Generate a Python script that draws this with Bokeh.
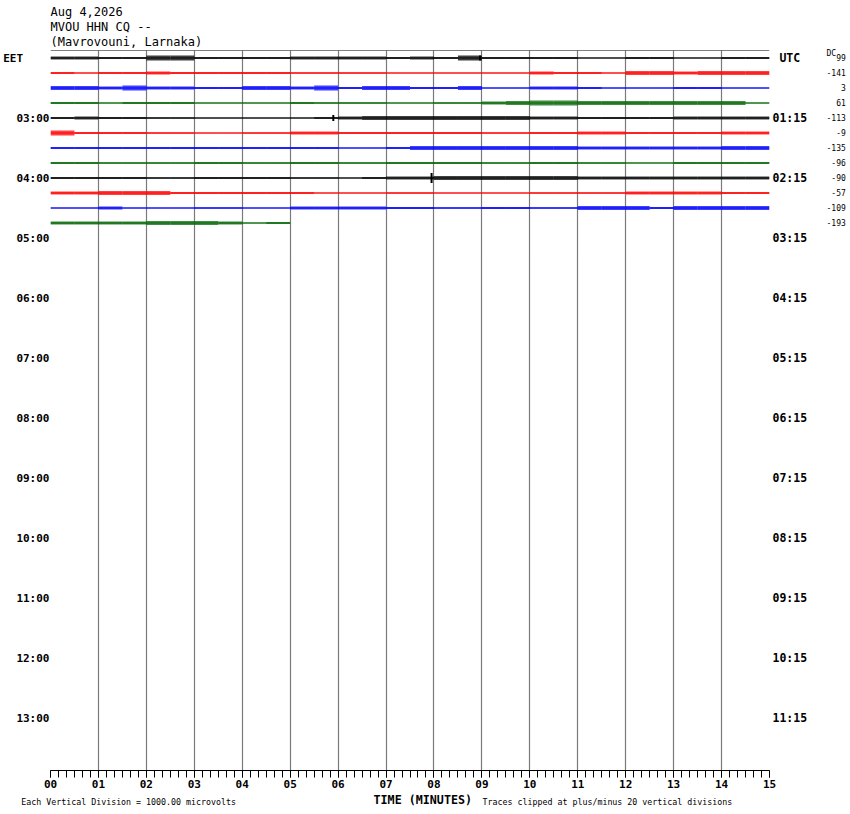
from bokeh.plotting import figure
from bokeh.models import Range1d, FixedTicker, Span, LinearAxis
from bokeh.layouts import column
from bokeh.core.properties import value
from bokeh.embed import file_html
from bokeh.resources import INLINE

# ---------------- data ----------------
header_lines = ["Aug 4,2026", "MVOU HHN CQ --", "(Mavrovouni, Larnaka)"]
minute_ticks = list(range(16))
minute_labels = ["00", "01", "02", "03", "04", "05", "06", "07",
                 "08", "09", "10", "11", "12", "13", "14", "15"]
hour_rows = [4, 8, 12, 16, 20, 24, 28, 32, 36, 40, 44]
eet_labels = ["03:00", "04:00", "05:00", "06:00", "07:00", "08:00",
              "09:00", "10:00", "11:00", "12:00", "13:00"]
utc_labels = ["01:15", "02:15", "03:15", "04:15", "05:15", "06:15",
              "07:15", "08:15", "09:15", "10:15", "11:15"]
dc_values = [99, -141, 3, 61, -113, -9, -135, -96, -90, -57, -109, -193]
left_zone, right_zone, dc_head = "EET", "UTC", "DC"
x_title = "TIME (MINUTES)"
scale_note = "Each Vertical Division = 1000.00 microvolts"
clip_note = "Traces clipped at plus/minus 20 vertical divisions"
trace_colors = ["#000000", "#ff0000", "#0000ff", "#006600"] * 3

block_minutes = 0.5  # amplitude read per 30-second block (in vertical divisions)
amp_00 = [0.10, 0.10, 0.07, 0.07, 0.17, 0.17, 0.07, 0.07, 0.07, 0.07,
          0.10, 0.10, 0.10, 0.10, 0.07, 0.10, 0.07, 0.17, 0.07, 0.07,
          0.07, 0.07, 0.03, 0.03, 0.07, 0.07, 0.03, 0.03, 0.07, 0.07]
amp_01 = [0.07, 0.03, 0.07, 0.07, 0.10, 0.07, 0.07, 0.07, 0.07, 0.07,
          0.05, 0.05, 0.05, 0.05, 0.03, 0.03, 0.03, 0.03, 0.03, 0.03,
          0.10, 0.07, 0.07, 0.03, 0.13, 0.13, 0.10, 0.13, 0.13, 0.13]
amp_02 = [0.13, 0.13, 0.10, 0.17, 0.10, 0.10, 0.07, 0.07, 0.13, 0.13,
          0.10, 0.17, 0.07, 0.13, 0.13, 0.07, 0.07, 0.13, 0.03, 0.03,
          0.10, 0.10, 0.07, 0.03, 0.03, 0.03, 0.07, 0.07, 0.03, 0.03]
amp_03 = [0.07, 0.07, 0.03, 0.07, 0.07, 0.07, 0.03, 0.03, 0.03, 0.03,
          0.07, 0.05, 0.05, 0.05, 0.03, 0.03, 0.05, 0.05, 0.10, 0.13,
          0.17, 0.17, 0.13, 0.13, 0.13, 0.13, 0.13, 0.13, 0.13, 0.03]
amp_04 = [0.07, 0.10, 0.07, 0.07, 0.05, 0.05, 0.03, 0.03, 0.03, 0.03,
          0.03, 0.07, 0.10, 0.13, 0.13, 0.13, 0.13, 0.13, 0.13, 0.13,
          0.10, 0.10, 0.07, 0.07, 0.07, 0.07, 0.10, 0.10, 0.10, 0.10]
amp_05 = [0.17, 0.07, 0.07, 0.07, 0.05, 0.05, 0.03, 0.03, 0.05, 0.05,
          0.10, 0.10, 0.07, 0.07, 0.07, 0.07, 0.07, 0.07, 0.05, 0.05,
          0.07, 0.07, 0.10, 0.10, 0.07, 0.07, 0.07, 0.07, 0.10, 0.10]
amp_06 = [0.07, 0.07, 0.07, 0.07, 0.07, 0.07, 0.07, 0.07, 0.07, 0.07,
          0.07, 0.07, 0.03, 0.03, 0.07, 0.13, 0.13, 0.13, 0.13, 0.13,
          0.13, 0.13, 0.10, 0.10, 0.10, 0.10, 0.10, 0.10, 0.13, 0.13]
amp_07 = [0.07, 0.07, 0.05, 0.05, 0.05, 0.05, 0.07, 0.07, 0.05, 0.05,
          0.07, 0.07, 0.05, 0.05, 0.07, 0.07, 0.07, 0.07, 0.05, 0.05,
          0.07, 0.07, 0.05, 0.05, 0.03, 0.03, 0.07, 0.07, 0.07, 0.07]
amp_08 = [0.07, 0.07, 0.07, 0.07, 0.05, 0.05, 0.07, 0.07, 0.07, 0.07,
          0.05, 0.05, 0.03, 0.07, 0.10, 0.10, 0.13, 0.13, 0.13, 0.13,
          0.13, 0.13, 0.10, 0.10, 0.10, 0.10, 0.10, 0.10, 0.10, 0.10]
amp_09 = [0.10, 0.10, 0.13, 0.13, 0.13, 0.07, 0.07, 0.07, 0.07, 0.07,
          0.07, 0.03, 0.03, 0.03, 0.05, 0.05, 0.03, 0.03, 0.03, 0.03,
          0.05, 0.05, 0.05, 0.05, 0.10, 0.10, 0.10, 0.10, 0.07, 0.07]
amp_10 = [0.03, 0.03, 0.10, 0.03, 0.03, 0.03, 0.05, 0.05, 0.03, 0.03,
          0.10, 0.10, 0.10, 0.10, 0.07, 0.07, 0.05, 0.05, 0.07, 0.07,
          0.05, 0.05, 0.13, 0.13, 0.13, 0.07, 0.13, 0.13, 0.13, 0.13]
amp_11 = [0.10, 0.10, 0.10, 0.10, 0.13, 0.13, 0.13, 0.10, 0.03, 0.07]
amplitudes = [amp_00, amp_01, amp_02, amp_03, amp_04, amp_05,
              amp_06, amp_07, amp_08, amp_09, amp_10, amp_11]

event_trace = [4, 8, 0]
event_minute = [5.90, 7.95, 8.96]
event_amp = [0.20, 0.33, 0.17]

# ---------------- shared geometry ----------------
MONO = "DejaVu Sans Mono"
NB = "\u00a0"
W = 848
LEFT_PX, RIGHT_PX = 50, 78
PX_PER_MIN = 48
x_span = (-LEFT_PX / PX_PER_MIN, (W - LEFT_PX) / PX_PER_MIN)


def bare(height, y_range):
    f = figure(frame_width=W, frame_height=height, x_range=Range1d(*x_span),
               y_range=y_range, output_backend="svg", toolbar_location=None,
               x_axis_location=None, y_axis_location=None,
               min_border=0, min_border_left=0, min_border_right=0,
               min_border_top=0, min_border_bottom=0)
    try:
        f.frame_align = False
    except Exception:
        pass
    f.outline_line_color = None
    f.grid.visible = False
    f.background_fill_color = "white"
    f.border_fill_color = "white"
    return f


# ---------------- header ----------------
head = bare(48, Range1d(2.42, -0.78))
head.text(x=[0] * len(header_lines), y=list(range(len(header_lines))),
          text=header_lines, text_font=value(MONO), text_font_size="12px",
          text_align="left", text_baseline="middle", text_color="black")

# ---------------- main plot ----------------
p = figure(width=W, height=746,
           x_range=Range1d(0, 15), y_range=Range1d(47.5, -0.5),
           output_backend="svg", toolbar_location=None,
           min_border_left=LEFT_PX, min_border_right=RIGHT_PX,
           min_border_top=2, min_border_bottom=24,
           x_axis_location="below", y_axis_location="left")
try:
    p.frame_align = False
except Exception:
    pass
p.outline_line_color = None
p.background_fill_color = "white"
p.border_fill_color = "white"

p.ygrid.visible = False
p.xgrid.ticker = FixedTicker(ticks=minute_ticks)
p.xgrid.grid_line_color = "#7a7a7a"
p.xgrid.grid_line_width = 1.2
p.xgrid.grid_line_alpha = 1.0

xa = p.xaxis[0]
xa.ticker = FixedTicker(ticks=minute_ticks,
                        minor_ticks=[k / 6 for k in range(0, 91)])
xa.major_label_overrides = {t: l for t, l in zip(minute_ticks, minute_labels)}
xa.axis_line_color = "black"
xa.major_tick_line_color = "black"
xa.minor_tick_line_color = "black"
xa.major_tick_in = 0
xa.major_tick_out = 7
xa.minor_tick_in = 0
xa.minor_tick_out = 7
xa.major_label_standoff = 2
xa.major_label_text_font = MONO
xa.major_label_text_font_style = "bold"
xa.major_label_text_font_size = "11px"
xa.major_label_text_color = "black"

ya = p.yaxis[0]
ya.ticker = FixedTicker(ticks=[0] + hour_rows, minor_ticks=[])
ya.major_label_overrides = {0: left_zone + NB * 4,
                            **{t: l for t, l in zip(hour_rows, eet_labels)}}
ya.axis_line_color = None
ya.major_tick_line_color = None
ya.minor_tick_line_color = None
ya.major_tick_in = 0
ya.major_tick_out = 0
ya.major_label_standoff = 1
ya.major_label_text_font = MONO
ya.major_label_text_font_style = "bold"
ya.major_label_text_font_size = "11px"
ya.major_label_text_color = "black"

ra = LinearAxis(ticker=FixedTicker(ticks=[0] + hour_rows, minor_ticks=[]),
                major_label_overrides={0: NB + right_zone,
                                       **{t: l for t, l in zip(hour_rows, utc_labels)}},
                axis_line_color=None, major_tick_line_color=None,
                minor_tick_line_color=None, major_tick_in=0, major_tick_out=0,
                major_label_standoff=3, major_label_text_font=MONO,
                major_label_text_font_style="bold",
                major_label_text_font_size="11.5px",
                major_label_text_color="black")
p.add_layout(ra, "right")

dc_rows = list(range(len(dc_values)))
dc_over = {-0.3: dc_head + NB * 2}
for r, v in zip(dc_rows, dc_values):
    s = str(v)
    dc_over[r] = NB * (4 - len(s)) + s
da = LinearAxis(ticker=FixedTicker(ticks=[-0.3] + dc_rows, minor_ticks=[]),
                major_label_overrides=dc_over,
                axis_line_color=None, major_tick_line_color=None,
                minor_tick_line_color=None, major_tick_in=0, major_tick_out=0,
                major_label_standoff=16, major_label_text_font=MONO,
                major_label_text_font_style="normal",
                major_label_text_font_size="8px",
                major_label_text_color="black")
p.add_layout(da, "right")

p.add_layout(Span(location=-0.5, dimension="width", line_color="black", line_width=1))

n = len(amplitudes)
line_xs, line_ys, line_cols = [], [], []
q_left, q_right, q_top, q_bot, q_col = [], [], [], [], []
for i in range(n):
    amps = amplitudes[i]
    end = len(amps) * block_minutes
    line_xs.append([0, end])
    line_ys.append([i, i])
    line_cols.append(trace_colors[i])
    for b, a in enumerate(amps):
        q_left.append(b * block_minutes)
        q_right.append((b + 1) * block_minutes)
        q_top.append(i - a)
        q_bot.append(i + a)
        q_col.append(trace_colors[i])

p.quad(left=q_left, right=q_right, top=q_top, bottom=q_bot,
       fill_color=q_col, line_color=None, fill_alpha=0.75)
p.multi_line(xs=line_xs, ys=line_ys, line_color=line_cols, line_width=1)

ev_y0 = [event_trace[k] - event_amp[k] for k in range(len(event_trace))]
ev_y1 = [event_trace[k] + event_amp[k] for k in range(len(event_trace))]
ev_col = [trace_colors[t] for t in event_trace]
p.segment(x0=event_minute, y0=ev_y0, x1=event_minute, y1=ev_y1,
          line_color=ev_col, line_width=2)

# ---------------- footer ----------------
foot = bare(18, Range1d(1, 0))
foot.text(x=[6.73], y=[0.30], text=[x_title], text_font=value(MONO),
          text_font_size="11.7px", text_font_style="bold",
          text_align="left", text_baseline="middle", text_color="black")
foot.text(x=[-0.61, 9.0], y=[0.40, 0.40], text=[scale_note, clip_note],
          text_font=value(MONO), text_font_size="8.3px",
          text_align="left", text_baseline="middle", text_color="black")

layout = column(head, p, foot, spacing=0)
open("out.html", "w").write(file_html(layout, INLINE))
